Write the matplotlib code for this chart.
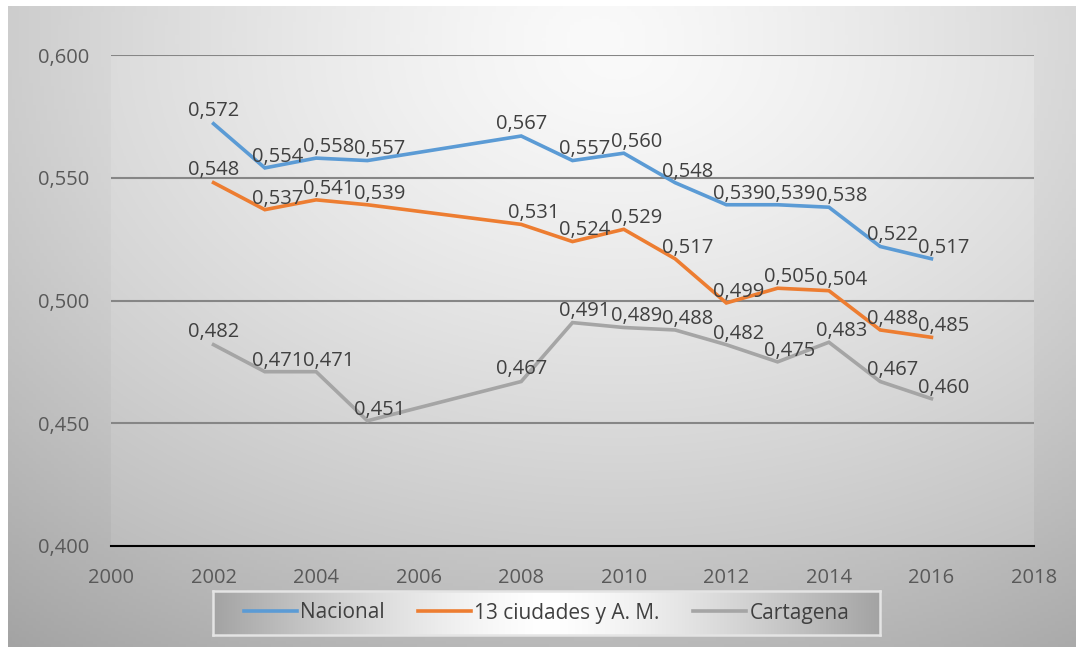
import matplotlib
matplotlib.use("Agg")
import matplotlib.pyplot as plt
import numpy as np

plt.rcParams['font.family'] = ['Open Sans', 'DejaVu Sans']

years = [2002, 2003, 2004, 2005, 2008, 2009, 2010, 2011, 2012, 2013, 2014, 2015, 2016]
nacional = [0.572, 0.554, 0.558, 0.557, 0.567, 0.557, 0.560, 0.548, 0.539, 0.539, 0.538, 0.522, 0.517]
ciudades = [0.548, 0.537, 0.541, 0.539, 0.531, 0.524, 0.529, 0.517, 0.499, 0.505, 0.504, 0.488, 0.485]
cartagena = [0.482, 0.471, 0.471, 0.451, 0.467, 0.491, 0.489, 0.488, 0.482, 0.475, 0.483, 0.467, 0.460]
series_names = ["Nacional", "13 ciudades y A. M.", "Cartagena"]
colors = ["#5B9BD5", "#ED7D31", "#A5A5A5"]


def radial(nx, ny, cx, cy, lo, hi, sx=1.0, sy=1.0):
    x = np.linspace(0, 1, nx)
    y = np.linspace(0, 1, ny)
    X, Y = np.meshgrid(x, y)
    d = np.sqrt(((X - cx) / sx) ** 2 + ((Y - cy) / sy) ** 2)
    d = np.clip(d / d.max(), 0, 1)
    v = hi - (hi - lo) * d ** 1.3
    return np.dstack([v, v, v])


fig = plt.figure(figsize=(10.76, 6.47), dpi=100)
fig.patch.set_facecolor("white")

# chart background gradient
bg = fig.add_axes([8 / 1076, 0, 1 - 8 / 1076, 1 - 6 / 647], zorder=-10)
bg.imshow(radial(300, 200, 0.55, 0.05, 0.64, 0.98, 1.0, 1.3), aspect="auto", extent=[0, 1, 0, 1], origin="upper")
bg.axis("off")

ax = fig.add_axes([111 / 1076, 1 - 546 / 647, (1034 - 111) / 1076, (546 - 55) / 647])
ax.imshow(radial(300, 200, 0.55, 0.0, 0.74, 0.98, 1.0, 1.3), aspect="auto",
          extent=[2000, 2018, 0.4, 0.6], origin="upper", zorder=0)
ax.set_xlim(2000, 2018)
ax.set_ylim(0.4, 0.6)
ax.set_aspect("auto")

for v in [0.45, 0.5, 0.55, 0.6]:
    ax.axhline(v, color="#868686", lw=1.5, zorder=1)

data = [nacional, ciudades, cartagena]
handles = []
for k, (vals, c, name) in enumerate(zip(data, colors, series_names)):
    h, = ax.plot(years, vals, color=c, lw=2.6, zorder=3, label=name, solid_joinstyle="miter")
    handles.append(h)
    for yr, v in zip(years, vals):
        if yr == 2002 or (yr == 2008 and k != 1):
            off = (0, 9)
        else:
            off = (9, 8)
        ax.annotate(("%.3f" % v).replace(".", ","), (yr, v), xytext=off, textcoords="offset points",
                    ha="center", va="center", fontsize=14.5, color="#404040", zorder=4)

for s in ["top", "right", "left"]:
    ax.spines[s].set_visible(False)
ax.spines["bottom"].set_color("black")
ax.spines["bottom"].set_linewidth(1.5)
ax.spines["bottom"].set_zorder(5)

ax.set_xticks(range(2000, 2019, 2))
ax.set_yticks([0.4, 0.45, 0.5, 0.55, 0.6])
ax.set_yticklabels(["0,400", "0,450", "0,500", "0,550", "0,600"])
ax.tick_params(axis="both", length=0, labelsize=14.5, labelcolor="#595959")
ax.tick_params(axis="x", pad=16)
ax.tick_params(axis="y", pad=16)

# legend box
lg = fig.add_axes([213 / 1076, 1 - 635 / 647, (880 - 213) / 1076, 44 / 647], zorder=5)
xx = np.linspace(-1, 1, 300)
g = 1.0 - 0.36 * np.clip(np.abs(xx) ** 1.4, 0, 1)
img = np.tile(g[None, :, None], (20, 1, 3))
lg.imshow(img, aspect="auto", extent=[0, 1, 0, 1])
lg.set_xticks([])
lg.set_yticks([])
for s in lg.spines.values():
    s.set_color("#e4e4e4")
    s.set_linewidth(1.8)
leg = lg.legend(handles=handles, loc="center", ncol=3, frameon=False, fontsize=15,
                handlelength=2.55, handletextpad=0.15, columnspacing=1.6, labelcolor="#404040")

fig.savefig("out.png", dpi=100)
